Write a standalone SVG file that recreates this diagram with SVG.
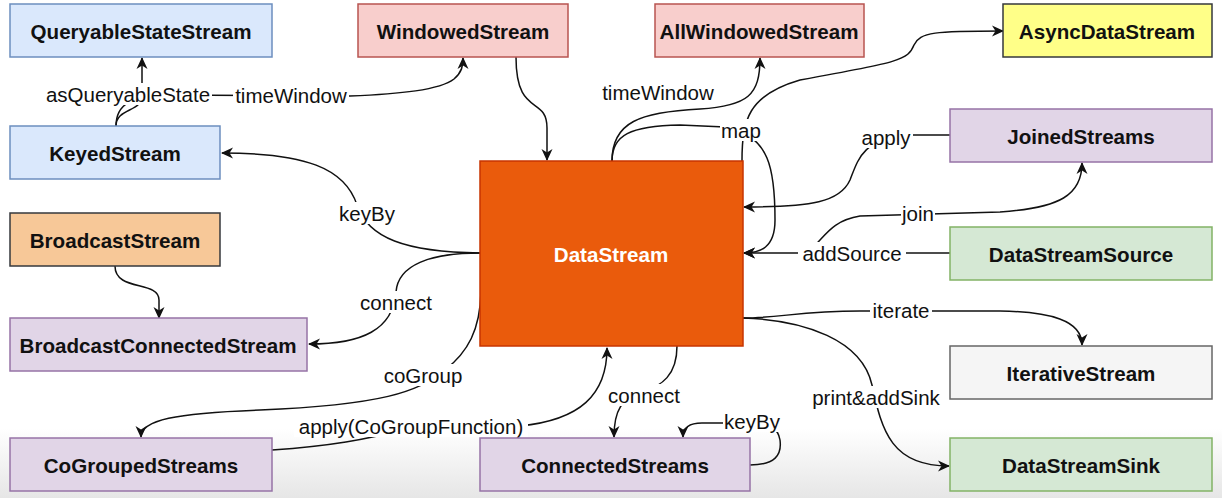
<svg xmlns="http://www.w3.org/2000/svg" width="1222" height="498" viewBox="0 0 1222 498">
<defs>
<marker id="arr" markerUnits="userSpaceOnUse" markerWidth="14" markerHeight="14" viewBox="0 0 14 14" refX="12" refY="7" orient="auto">
<path d="M1,1.5 L13,7 L1,12.5 L4.5,7 z" fill="#111"/>
</marker>
<linearGradient id="bg" x1="0" y1="0" x2="0" y2="1">
<stop offset="0" stop-color="#ffffff"/>
<stop offset="0.86" stop-color="#ffffff"/>
<stop offset="1" stop-color="#e6e6e6"/>
</linearGradient>
<style>
.n{stroke-width:1.5}
.t{font-family:"Liberation Sans",Arial,sans-serif;font-weight:bold;font-size:20.6px;fill:#111;text-anchor:middle;dominant-baseline:central}
.c path{fill:none;stroke:#111;stroke-width:1.5}
.l rect{fill:#fff}
.l text{font-family:"Liberation Sans",Arial,sans-serif;font-size:20.5px;fill:#111;text-anchor:middle;dominant-baseline:central}
.blue{fill:#dae8fc;stroke:#6c8ebf}
.red{fill:#f8cecc;stroke:#b85450}
.yel{fill:#ffff88;stroke:#36393d}
.org{fill:#f7c898;stroke:#36393d}
.pur{fill:#e1d5e7;stroke:#9673a6}
.grn{fill:#d5e8d4;stroke:#82b366}
.gry{fill:#f5f5f5;stroke:#666666}
</style>
</defs>
<rect x="0" y="0" width="1222" height="498" fill="url(#bg)"/>

<g class="c" id="connectors">
<path d="M116,126 C116,108 142,112 142,96 L142,58" marker-end="url(#arr)"/>
<path d="M116,126 C116,104 132,96 165,95 L350,96 C400,94 440,90 454,79 C462,72 463,66 463,58" marker-end="url(#arr)"/>
<path d="M516,57 C516,118 547,95 547,128 L547,160" marker-end="url(#arr)"/>
<path d="M612,161 C612,122 640,112 700,109 C748,106 760,95 760,58" marker-end="url(#arr)"/>
<path d="M612,161 C612,135 630,126 680,125 L725,127 C770,135 775,170 775,220 C775,248 760,253 744,253" marker-end="url(#arr)"/>
<path d="M742,161 C742,120 748,95 800,80 C900,62 908,60 914,45 C920,32 935,31 1003,31" marker-end="url(#arr)"/>
<path d="M950,135 L905,135 C862,140 858,160 850,180 C840,202 812,207 744,207" marker-end="url(#arr)"/>
<path d="M800,253 C822,250 822,222 860,216 L1000,212 C1060,208 1082,195 1082,163" marker-end="url(#arr)"/>
<path d="M950,253 L744,253" marker-end="url(#arr)"/>
<path d="M480,253 C405,252 368,238 357,205 C345,168 305,153 222,153" marker-end="url(#arr)"/>
<path d="M480,253 C430,253 398,265 396,292 C393,330 362,344 309,344" marker-end="url(#arr)"/>
<path d="M115,266 C115,292 159,280 159,300 L159,318" marker-end="url(#arr)"/>
<path d="M481,292 C480,330 468,352 445,370 C420,392 380,405 260,410 C175,413 141,420 141,437" marker-end="url(#arr)"/>
<path d="M272,450 C330,446 365,440 410,428 L520,426 C580,420 607,395 607,348" marker-end="url(#arr)"/>
<path d="M677,346 C677,375 662,386 642,392 C622,398 614,410 614,437" marker-end="url(#arr)"/>
<path d="M750,465 C775,465 782,455 780,440 C778,428 770,423 750,423 L702,423 C689,423 683,428 683,437" marker-end="url(#arr)"/>
<path d="M743,318 C780,318 800,311 860,311 L1000,311 C1050,312 1082,320 1082,345" marker-end="url(#arr)"/>
<path d="M743,318 C805,320 862,340 872,385 C882,432 892,466 949,466" marker-end="url(#arr)"/>
</g>

<g id="labels">
<g class="l"><rect x="44" y="83" width="168" height="22"/><text x="128" y="94">asQueryableState</text></g>
<g class="l"><rect x="233" y="84" width="116" height="22"/><text x="291" y="95">timeWindow</text></g>
<g class="l"><rect x="601" y="81" width="116" height="22"/><text x="658" y="92">timeWindow</text></g>
<g class="l"><rect x="720" y="119" width="42" height="22"/><text x="741" y="130">map</text></g>
<g class="l"><rect x="859" y="126" width="54" height="22"/><text x="886" y="137">apply</text></g>
<g class="l"><rect x="901" y="202" width="34" height="22"/><text x="918" y="213">join</text></g>
<g class="l"><rect x="798" y="242" width="108" height="22"/><text x="852" y="253">addSource</text></g>
<g class="l"><rect x="338" y="202" width="58" height="22"/><text x="367" y="213">keyBy</text></g>
<g class="l"><rect x="357" y="291" width="78" height="22"/><text x="396" y="302">connect</text></g>
<g class="l"><rect x="870" y="299" width="62" height="22"/><text x="901" y="310">iterate</text></g>
<g class="l"><rect x="380" y="364" width="86" height="22"/><text x="423" y="375">coGroup</text></g>
<g class="l"><rect x="294" y="415" width="234" height="22"/><text x="411" y="426">apply(CoGroupFunction)</text></g>
<g class="l"><rect x="605" y="384" width="78" height="22"/><text x="644" y="395">connect</text></g>
<g class="l"><rect x="723" y="410" width="58" height="22"/><text x="752" y="421">keyBy</text></g>
<g class="l"><rect x="808" y="386" width="136" height="22"/><text x="876" y="397">print&amp;addSink</text></g>
</g>

<g id="QueryableStateStream"><rect class="n blue" x="10" y="4" width="262" height="53"/><text class="t" x="141" y="31">QueryableStateStream</text></g>
<g id="WindowedStream"><rect class="n red" x="358" y="4" width="210" height="53"/><text class="t" x="463" y="31">WindowedStream</text></g>
<g id="AllWindowedStream"><rect class="n red" x="655" y="4" width="209" height="53"/><text class="t" x="759" y="31">AllWindowedStream</text></g>
<g id="AsyncDataStream"><rect class="n yel" x="1003" y="4" width="209" height="53"/><text class="t" x="1107" y="31">AsyncDataStream</text></g>
<g id="KeyedStream"><rect class="n blue" x="10" y="126" width="210" height="53"/><text class="t" x="115" y="153">KeyedStream</text></g>
<g id="JoinedStreams"><rect class="n pur" x="950" y="109" width="262" height="53"/><text class="t" x="1081" y="136">JoinedStreams</text></g>
<g id="BroadcastStream"><rect class="n org" x="10" y="213" width="210" height="53"/><text class="t" x="115" y="240">BroadcastStream</text></g>
<g id="DataStream"><rect x="480" y="161" width="263" height="185" fill="#ea5b0c" stroke="#c73500" stroke-width="1.5"/><text class="t" x="611" y="254" style="fill:#fff">DataStream</text></g>
<g id="DataStreamSource"><rect class="n grn" x="950" y="227" width="262" height="53"/><text class="t" x="1081" y="254">DataStreamSource</text></g>
<g id="BroadcastConnectedStream"><rect class="n pur" x="10" y="318" width="297" height="53"/><text class="t" x="158" y="345">BroadcastConnectedStream</text></g>
<g id="IterativeStream"><rect class="n gry" x="950" y="346" width="262" height="53"/><text class="t" x="1081" y="373">IterativeStream</text></g>
<g id="CoGroupedStreams"><rect class="n pur" x="10" y="438" width="262" height="53"/><text class="t" x="141" y="465">CoGroupedStreams</text></g>
<g id="ConnectedStreams"><rect class="n pur" x="480" y="438" width="270" height="53"/><text class="t" x="615" y="465">ConnectedStreams</text></g>
<g id="DataStreamSink"><rect class="n grn" x="950" y="438" width="262" height="53"/><text class="t" x="1081" y="465">DataStreamSink</text></g>
</svg>
